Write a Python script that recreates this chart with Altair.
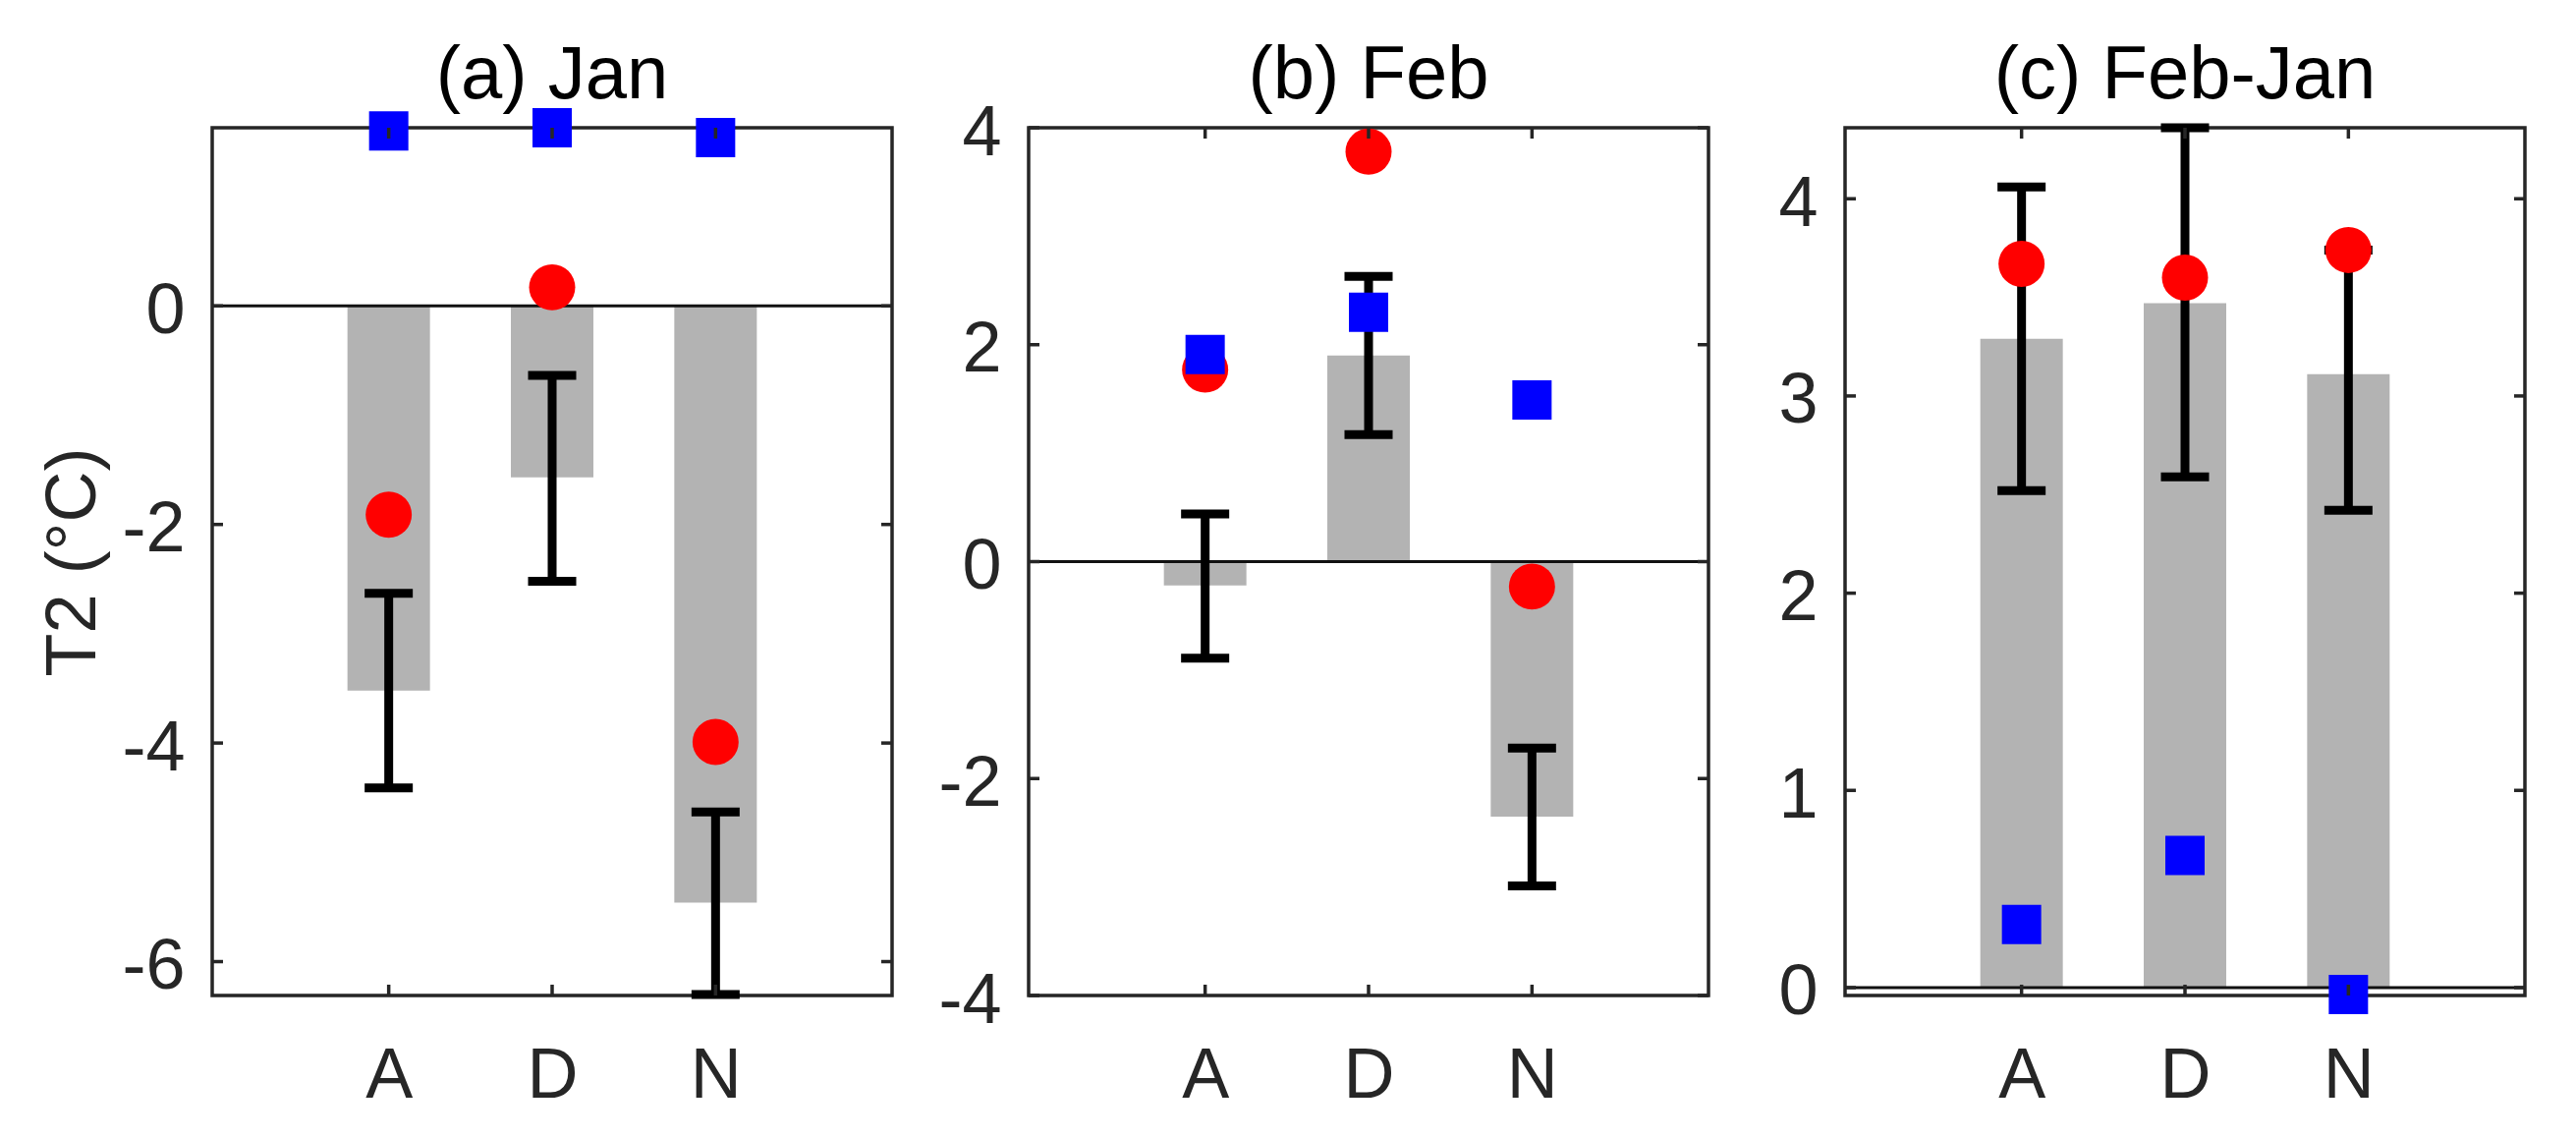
import altair as alt
import pandas as pd

# ---------------- data ----------------
cats = ["A", "D", "N"]
titles = ["(a) Jan", "(b) Feb", "(c) Feb-Jan"]
y_title = "T2 (°C)"

bar_jan = [-3.52, -1.57, -5.46]
red_jan = [-1.91, 0.17, -3.99]
blue_jan = [1.60, 1.63, 1.54]
elo_jan = [-4.41, -2.52, -6.30]
ehi_jan = [-2.63, -0.635, -4.63]

bar_feb = [-0.22, 1.90, -2.35]
red_feb = [1.77, 3.78, -0.23]
blue_feb = [1.91, 2.30, 1.49]
elo_feb = [-0.89, 1.17, -2.99]
ehi_feb = [0.44, 2.63, -1.72]

bar_dif = [3.29, 3.47, 3.11]
red_dif = [3.67, 3.60, 3.74]
blue_dif = [0.32, 0.67, -0.035]
elo_dif = [2.52, 2.59, 2.42]
ehi_dif = [4.06, 4.36, 3.74]

ydom_jan = [-6.31, 1.63]
ydom_feb = [-4.0, 4.0]
ydom_dif = [-0.04, 4.36]

yticks_jan = [-6, -4, -2, 0]
yticks_feb = [-4, -2, 0, 2, 4]
yticks_dif = [0, 1, 2, 3, 4]

xdom = [-0.05, 4.05]

# ---------------- style ----------------
W, H = 692, 883
FONT = "Liberation Sans"
FRAME = "#262626"
TICKLEN = 11


def panel(title, bars, red, blue, elo, ehi, ydom, yticks, with_title):
    df = pd.DataFrame({
        "cat": cats,
        "pos": list(range(1, len(cats) + 1)),
        "bar": bars, "red": red, "blue": blue, "lo": elo, "hi": ehi,
    })
    ticks_df = pd.DataFrame({"v": yticks})
    zero_df = pd.DataFrame({"z": [0]})
    title_df = pd.DataFrame({"t": [title]})

    xs = alt.Scale(domain=xdom, nice=False, zero=False)
    ys = alt.Scale(domain=ydom, nice=False, zero=False)

    label_js = "[" + ",".join("'%s'" % c for c in cats) + "][datum.value-1]"
    xax = alt.Axis(values=list(range(1, len(cats) + 1)), labelExpr=label_js,
                   ticks=False, domain=False, grid=False, labelAngle=0,
                   labelPadding=46, labelFontSize=72, labelFont=FONT,
                   labelColor=FRAME, title=None)
    yargs = dict(values=yticks, labelExpr="'' + datum.value", ticks=False,
                 domain=False, grid=False, labelPadding=28, labelOffset=5,
                 labelFontSize=72, labelFont=FONT, labelColor=FRAME,
                 labelBaseline="middle")
    if with_title:
        yax = alt.Axis(title=y_title, titleFont=FONT, titleFontSize=72,
                       titleFontWeight="normal", titleColor=FRAME,
                       titleX=-142, titleY=H / 2, titleAngle=270,
                       titleAlign="center", titleBaseline="middle", **yargs)
    else:
        yax = alt.Axis(title=None, **yargs)

    X = lambda f: alt.X(f, scale=xs, axis=xax)
    Y = lambda f: alt.Y(f, scale=ys, axis=yax)

    base = alt.Chart(df)

    bars_l = base.mark_bar(color="#b3b3b3", size=84, orient="vertical").encode(
        x=X("pos:Q"), y=Y("bar:Q"), y2=alt.datum(0))
    zero_l = alt.Chart(zero_df).mark_rule(color="#111111", strokeWidth=3).encode(
        y=Y("z:Q"))
    stem = base.mark_rule(color="black", strokeWidth=9).encode(
        x=X("pos:Q"), y=Y("lo:Q"), y2="hi:Q")
    cap_lo = base.mark_tick(color="black", orient="horizontal", size=49,
                            thickness=9, opacity=1).encode(x=X("pos:Q"), y=Y("lo:Q"))
    cap_hi = base.mark_tick(color="black", orient="horizontal", size=49,
                            thickness=9, opacity=1).encode(x=X("pos:Q"), y=Y("hi:Q"))
    red_l = base.mark_circle(color="#ff0000", size=2206, opacity=1).encode(
        x=X("pos:Q"), y=Y("red:Q"))
    blue_l = base.mark_square(color="#0000ff", size=1600, opacity=1).encode(
        x=X("pos:Q"), y=Y("blue:Q"))

    tk = dict(color=FRAME, strokeWidth=3.5)
    ytick_left = alt.Chart(ticks_df).mark_rule(**tk).encode(
        y=Y("v:Q"), x=alt.value(0), x2=alt.value(TICKLEN))
    ytick_right = alt.Chart(ticks_df).mark_rule(**tk).encode(
        y=Y("v:Q"), x=alt.value(W - TICKLEN), x2=alt.value(W))
    xtick_top = base.mark_rule(**tk).encode(
        x=X("pos:Q"), y=alt.value(0), y2=alt.value(TICKLEN))
    xtick_bot = base.mark_rule(**tk).encode(
        x=X("pos:Q"), y=alt.value(H - TICKLEN), y2=alt.value(H))

    title_l = alt.Chart(title_df).mark_text(
        font=FONT, fontSize=76, color="black", align="center",
        baseline="alphabetic").encode(
        text="t:N", x=alt.value(W / 2), y=alt.value(-30))

    return alt.layer(
        bars_l, zero_l, stem, cap_lo, cap_hi, red_l, blue_l,
        ytick_left, ytick_right, xtick_top, xtick_bot, title_l,
    ).properties(width=W, height=H)


pa = panel(titles[0], bar_jan, red_jan, blue_jan, elo_jan, ehi_jan,
           ydom_jan, yticks_jan, True)
pb = panel(titles[1], bar_feb, red_feb, blue_feb, elo_feb, ehi_feb,
           ydom_feb, yticks_feb, False)
pc = panel(titles[2], bar_dif, red_dif, blue_dif, elo_dif, ehi_dif,
           ydom_dif, yticks_dif, False)

chart = alt.hconcat(pa, pb, pc, spacing=139, bounds="flush").properties(
    padding={"left": 28, "top": 29, "right": 20, "bottom": 20}
).configure(
    background="white"
).configure_view(
    stroke=FRAME, strokeWidth=3.5
)

chart.save("out.html", embed_options={"renderer": "svg", "actions": False})
